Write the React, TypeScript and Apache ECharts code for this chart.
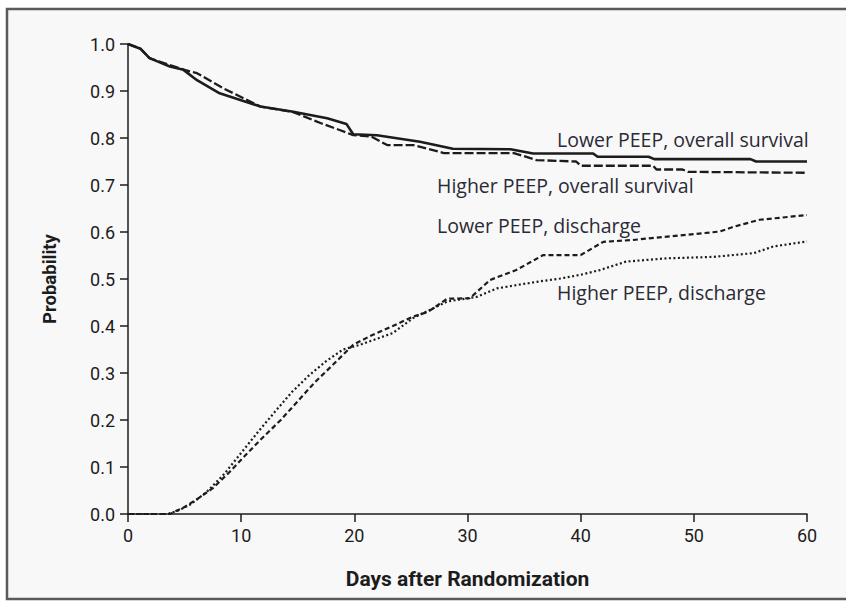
import React, { useEffect, useRef } from "react";
import * as echarts from "echarts";

// Days after randomization / probability
const lowerSurvivalDays = [0, 1.1, 1.9, 3.7, 4.9, 6.1, 8.1, 11.7, 14.6, 17.6, 19.3, 19.9, 22, 25.8, 28.7, 33.8, 35.8, 41.1, 41.5, 46, 46.5, 55, 55.5, 60];
const lowerSurvivalProb = [1.0, 0.99, 0.97, 0.952, 0.945, 0.923, 0.895, 0.867, 0.856, 0.842, 0.83, 0.808, 0.806, 0.792, 0.777, 0.776, 0.767, 0.767, 0.76, 0.76, 0.755, 0.755, 0.75, 0.75];

const higherSurvivalDays = [0, 1.1, 1.9, 3.7, 5, 6.1, 8.4, 9.5, 11.7, 14.6, 17, 18.7, 19.9, 21.5, 22.9, 25.2, 27.9, 34.1, 36.1, 39.6, 40, 46.4, 46.7, 49, 49.5, 60];
const higherSurvivalProb = [1.0, 0.99, 0.97, 0.955, 0.945, 0.938, 0.906, 0.893, 0.867, 0.855, 0.832, 0.817, 0.806, 0.803, 0.785, 0.785, 0.768, 0.768, 0.753, 0.75, 0.741, 0.741, 0.733, 0.733, 0.728, 0.726];

const lowerDischargeDays = [0, 3.7, 5, 6, 7.5, 9, 10.5, 12, 13.5, 15, 16.5, 18, 19.9, 21.5, 23.4, 25.2, 26.5, 28.2, 30.2, 32, 34.3, 36.7, 40, 42, 44.6, 52.3, 53.5, 55.8, 60];
const lowerDischargeProb = [0, 0, 0.015, 0.03, 0.055, 0.09, 0.128, 0.165, 0.2, 0.24, 0.28, 0.315, 0.36, 0.38, 0.4, 0.42, 0.43, 0.458, 0.459, 0.498, 0.519, 0.551, 0.551, 0.579, 0.583, 0.601, 0.611, 0.626, 0.636];

const higherDischargeDays = [0, 3.5, 4.5, 5.5, 7, 8.5, 10, 11.5, 13, 14.5, 16, 17.5, 19, 20.5, 23.4, 25.2, 28.2, 30.8, 32.6, 36.1, 38.2, 40, 41.7, 44, 47.6, 51.7, 55.3, 57, 60];
const higherDischargeProb = [0, 0, 0.008, 0.02, 0.048, 0.085, 0.13, 0.175, 0.218, 0.26, 0.295, 0.325, 0.35, 0.36, 0.385, 0.417, 0.452, 0.462, 0.48, 0.494, 0.501, 0.509, 0.519, 0.537, 0.544, 0.547, 0.555, 0.569, 0.58];

const xTicks = [0, 10, 20, 30, 40, 50, 60];
const yTicks = [0, 0.1, 0.2, 0.3, 0.4, 0.5, 0.6, 0.7, 0.8, 0.9, 1.0];

const seriesNames = [
  "Lower PEEP, overall survival",
  "Higher PEEP, overall survival",
  "Lower PEEP, discharge",
  "Higher PEEP, discharge",
];

const zip = (a: number[], b: number[]) => a.map((d, i) => [d, b[i]]);

const tickFont = "Roboto, 'Liberation Sans', sans-serif";
const labelFont = "'Open Sans', 'Noto Sans', sans-serif";
const ink = "#1c1c1c";

export default function App() {
  const ref = useRef<HTMLDivElement>(null);
  useEffect(() => {
    if (!ref.current) return;
    const chart = echarts.init(ref.current, undefined, { renderer: "svg" });
    const line = (name: string, data: number[][], type: any, width: number) => ({
      name,
      type: "line",
      data,
      showSymbol: false,
      symbol: "none",
      lineStyle: { color: ink, width, type },
      z: 3,
    });
    const label = (text: string, x: number, y: number) => ({
      type: "text",
      x,
      y,
      style: { text, font: `19.5px ${labelFont}`, fill: "#2a2a35", verticalAlign: "middle" },
    });
    chart.setOption({
      animation: false,
      backgroundColor: "#ffffff",
      grid: { left: 128, top: 44, right: 39, bottom: 95, containLabel: false },
      xAxis: {
        type: "value",
        min: 0,
        max: 60,
        interval: 10,
        name: "Days after Randomization",
        nameLocation: "middle",
        nameGap: 54,
        nameTextStyle: { fontFamily: tickFont, fontWeight: "bold", fontSize: 21, color: ink },
        axisLine: { show: true, lineStyle: { color: ink, width: 1.5 } },
        axisTick: { show: true, length: 8, lineStyle: { color: ink, width: 1.5 } },
        axisLabel: {
          margin: 12,
          fontFamily: tickFont,
          fontSize: 18,
          color: ink,
          formatter: (v: number) => (xTicks.includes(v) ? String(v) : ""),
        },
        splitLine: { show: false },
      },
      yAxis: {
        type: "value",
        min: 0,
        max: 1,
        interval: 0.1,
        name: "Probability",
        nameLocation: "middle",
        nameGap: 69,
        nameTextStyle: { fontFamily: tickFont, fontWeight: "bold", fontSize: 18.5, color: ink },
        axisLine: { show: true, lineStyle: { color: ink, width: 1.5 } },
        axisTick: { show: true, length: 8, lineStyle: { color: ink, width: 1.5 } },
        axisLabel: {
          margin: 13,
          fontFamily: tickFont,
          fontSize: 18,
          color: ink,
          formatter: (v: number) => {
            const t = yTicks.find((y) => Math.abs(y - v) < 1e-6);
            return t === undefined ? "" : t.toFixed(1);
          },
        },
        splitLine: { show: false },
      },
      graphic: [
        {
          type: "rect",
          shape: { x: 7, y: 9, width: 850, height: 590 },
          style: { fill: "#f8f8f8", stroke: "#5a5a5a", lineWidth: 2.5 },
          z: -10,
          silent: true,
        },
        label(seriesNames[0], 557, 139),
        label(seriesNames[1], 437, 185),
        label(seriesNames[2], 437, 225),
        label(seriesNames[3], 557, 292),
      ],
      series: [
        line(seriesNames[0], zip(lowerSurvivalDays, lowerSurvivalProb), "solid", 2.6),
        line(seriesNames[1], zip(higherSurvivalDays, higherSurvivalProb), [9, 3], 2.3),
        line(seriesNames[2], zip(lowerDischargeDays, lowerDischargeProb), [5, 3], 2.2),
        line(seriesNames[3], zip(higherDischargeDays, higherDischargeProb), [2, 2.5], 2.2),
      ],
    });
    return () => chart.dispose();
  }, []);
  return <div ref={ref} style={{ position: "absolute", left: 0, top: 0, width: 846, height: 609 }} />;
}
